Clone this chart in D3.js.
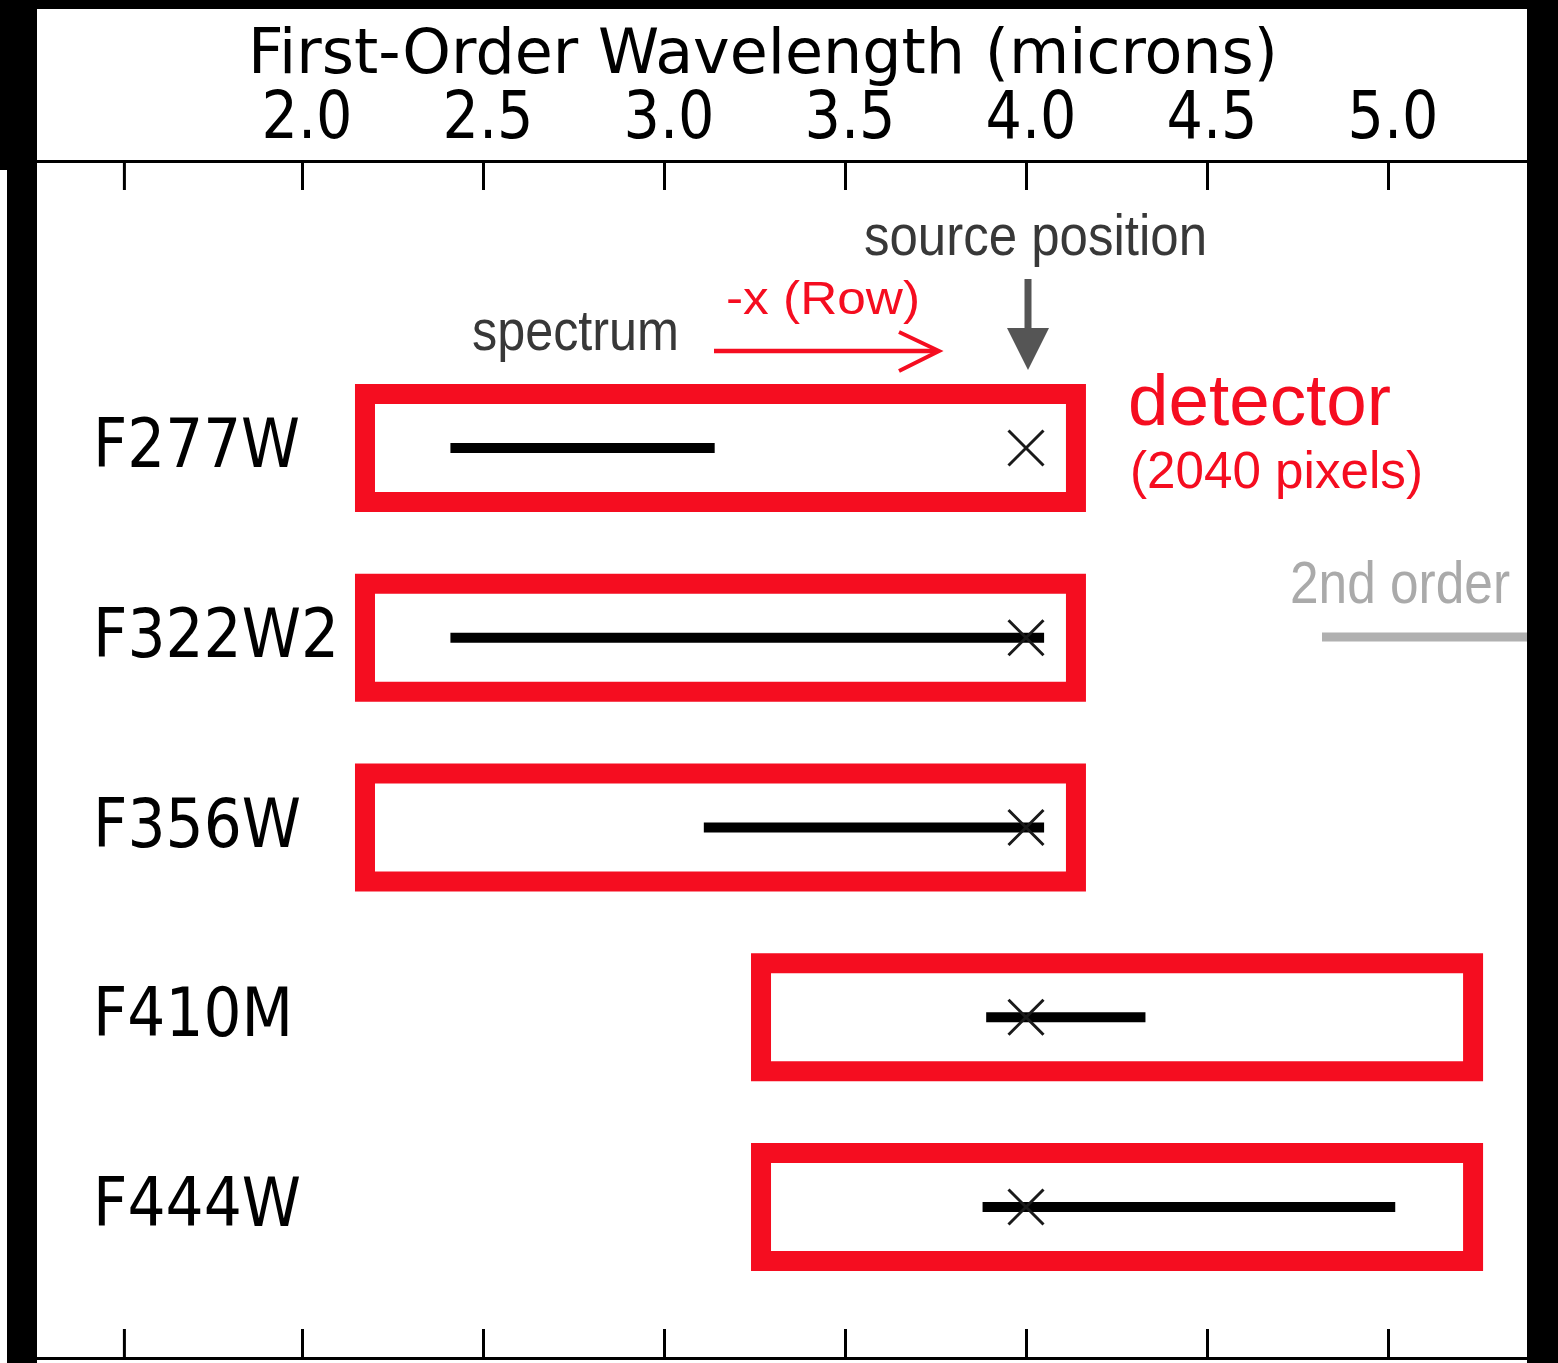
<!DOCTYPE html>
<html>
<head>
<meta charset="utf-8">
<script src="https://cdn.jsdelivr.net/npm/d3@7"></script>
<style>
  html, body { margin: 0; padding: 0; background: #fff; }
  svg { display: block; }
</style>
</head>
<body>
<div id="chart"></div>
<script>
// ---------------- data ----------------
const filters      = ["F277W", "F322W2", "F356W", "F410M", "F444W"];
const specStart    = [2.41, 2.41, 3.11, 3.89, 3.88];   // microns
const specEnd      = [3.14, 4.05, 4.05, 4.33, 5.02];   // microns
const detStart     = [2.174, 2.174, 2.174, 3.268, 3.268];
const detEnd       = [4.138, 4.138, 4.138, 5.235, 5.235];
const sourcePos    = 4.0;
const tickValues   = [1.508, 2.0, 2.5, 3.0, 3.5, 4.0, 4.5, 5.0];
const tickLabels   = ["", "2.0", "2.5", "3.0", "3.5", "4.0", "4.5", "5.0"];
const labelWidths  = [207, 246, 208, 200, 208];
const axisTitle    = "First-Order Wavelength (microns)";

// ---------------- setup ----------------
const W = 1558, H = 1363;
const RED = "#f50d20";
const svg = d3.select("#chart").append("svg").attr("width", W).attr("height", H);
svg.append("rect").attr("width", W).attr("height", H).attr("fill", "#fff");

const x = d3.scaleLinear().domain([2, 5]).range([302, 1388]);
const y = d3.scalePoint().domain(filters).range([448, 1207]);

function fit(sel, w) {
  sel.attr("textLength", w).attr("lengthAdjust", "spacingAndGlyphs");
  return sel;
}

// ---------------- frame (black borders) ----------------
svg.append("rect").attr("x", 0).attr("y", 0).attr("width", W).attr("height", 9).attr("fill", "#000");
svg.append("rect").attr("x", 0).attr("y", 0).attr("width", 37).attr("height", 170).attr("fill", "#000");
svg.append("rect").attr("x", 7).attr("y", 170).attr("width", 30).attr("height", H - 170).attr("fill", "#000");
svg.append("rect").attr("x", 1527).attr("y", 0).attr("width", W - 1527).attr("height", H).attr("fill", "#000");

// ---------------- axes ----------------
svg.append("line").attr("x1", 37).attr("x2", 1527).attr("y1", 161.5).attr("y2", 161.5)
  .attr("stroke", "#000").attr("stroke-width", 3);
svg.append("line").attr("x1", 37).attr("x2", 1527).attr("y1", 1358.5).attr("y2", 1358.5)
  .attr("stroke", "#000").attr("stroke-width", 3);

const topAxis = svg.append("g").attr("transform", "translate(0,163)")
  .call(d3.axisBottom(x).tickValues(tickValues).tickSize(27).tickFormat(""));
const botAxis = svg.append("g").attr("transform", "translate(0,1357)")
  .call(d3.axisTop(x).tickValues(tickValues).tickSize(28).tickFormat(""));
[topAxis, botAxis].forEach(g => {
  g.select(".domain").remove();
  g.selectAll(".tick line").attr("stroke", "#000").attr("stroke-width", 3);
});

// tick labels
svg.append("g").selectAll("text").data(tickValues.filter((d, i) => tickLabels[i] !== ""))
  .join("text")
  .attr("x", d => x(d) + 5)
  .attr("y", 138)
  .attr("text-anchor", "middle")
  .attr("font-family", "DejaVu Sans")
  .attr("font-size", 66)
  .attr("fill", "#000")
  .text(d => tickLabels[tickValues.indexOf(d)])
  .call(s => fit(s, 91));

// axis title
fit(svg.append("text")
  .attr("x", 248).attr("y", 73)
  .attr("font-family", "DejaVu Sans")
  .attr("font-size", 63)
  .attr("fill", "#000")
  .text(axisTitle), 1030);

// ---------------- rows ----------------
const rows = filters.map((f, i) => ({
  f, s0: specStart[i], s1: specEnd[i], d0: detStart[i], d1: detEnd[i], lw: labelWidths[i]
}));

// detector boxes
const boxH = 108;
svg.append("g").selectAll("rect").data(rows).join("rect")
  .attr("x", d => x(d.d0))
  .attr("y", d => y(d.f) - boxH / 2)
  .attr("width", d => x(d.d1) - x(d.d0))
  .attr("height", boxH)
  .attr("fill", "none")
  .attr("stroke", RED)
  .attr("stroke-width", 20)
  .attr("stroke-linejoin", "miter");

// spectra
svg.append("g").selectAll("line").data(rows).join("line")
  .attr("x1", d => x(d.s0)).attr("x2", d => x(d.s1))
  .attr("y1", d => y(d.f)).attr("y2", d => y(d.f))
  .attr("stroke", "#000").attr("stroke-width", 10);

// source markers
svg.append("g").selectAll("path").data(rows).join("path")
  .attr("d", d => {
    const cx = x(sourcePos), cy = y(d.f), r = 17.5;
    return `M${cx - r},${cy - r}L${cx + r},${cy + r}M${cx - r},${cy + r}L${cx + r},${cy - r}`;
  })
  .attr("stroke", "#1a1a1a").attr("stroke-width", 3).attr("fill", "none");

// row labels
svg.append("g").selectAll("text").data(rows).join("text")
  .attr("x", 93)
  .attr("y", d => y(d.f) + 19)
  .attr("font-family", "DejaVu Sans")
  .attr("font-size", 68)
  .attr("fill", "#000")
  .text(d => d.f)
  .each(function(d) { fit(d3.select(this), d.lw); });

// ---------------- annotations ----------------
// source position
fit(svg.append("text").attr("x", 864).attr("y", 255)
  .attr("font-family", "Liberation Sans, Arial").attr("font-size", 57)
  .attr("fill", "#383838").text("source position"), 343);
const sx = x(sourcePos) + 2;
svg.append("line").attr("x1", sx).attr("x2", sx).attr("y1", 279).attr("y2", 335)
  .attr("stroke", "#555").attr("stroke-width", 7);
svg.append("path").attr("d", `M${sx - 21},328L${sx + 21},328L${sx},370Z`).attr("fill", "#555");

// spectrum
fit(svg.append("text").attr("x", 472).attr("y", 350)
  .attr("font-family", "Liberation Sans, Arial").attr("font-size", 58)
  .attr("fill", "#383838").text("spectrum"), 207);

// -x (Row)
fit(svg.append("text").attr("x", 726).attr("y", 314)
  .attr("font-family", "Liberation Sans, Arial").attr("font-size", 47)
  .attr("fill", RED).text("-x (Row)"), 194);
svg.append("line").attr("x1", 714).attr("x2", 937).attr("y1", 351).attr("y2", 351)
  .attr("stroke", RED).attr("stroke-width", 4.5);
svg.append("path").attr("d", "M899,332L939,351L899,371")
  .attr("fill", "none").attr("stroke", RED).attr("stroke-width", 4);

// detector
fit(svg.append("text").attr("x", 1128).attr("y", 425)
  .attr("font-family", "Liberation Sans, Arial").attr("font-size", 73)
  .attr("fill", RED).text("detector"), 263);
fit(svg.append("text").attr("x", 1130).attr("y", 488)
  .attr("font-family", "Liberation Sans, Arial").attr("font-size", 52)
  .attr("fill", RED).text("(2040 pixels)"), 293);

// 2nd order
fit(svg.append("text").attr("x", 1290).attr("y", 603)
  .attr("font-family", "Liberation Sans, Arial").attr("font-size", 60)
  .attr("fill", "#aaaaaa").text("2nd order"), 220);
svg.append("line").attr("x1", 1322).attr("x2", 1527).attr("y1", 637).attr("y2", 637)
  .attr("stroke", "#b0b0b0").attr("stroke-width", 9);
</script>
</body>
</html>
